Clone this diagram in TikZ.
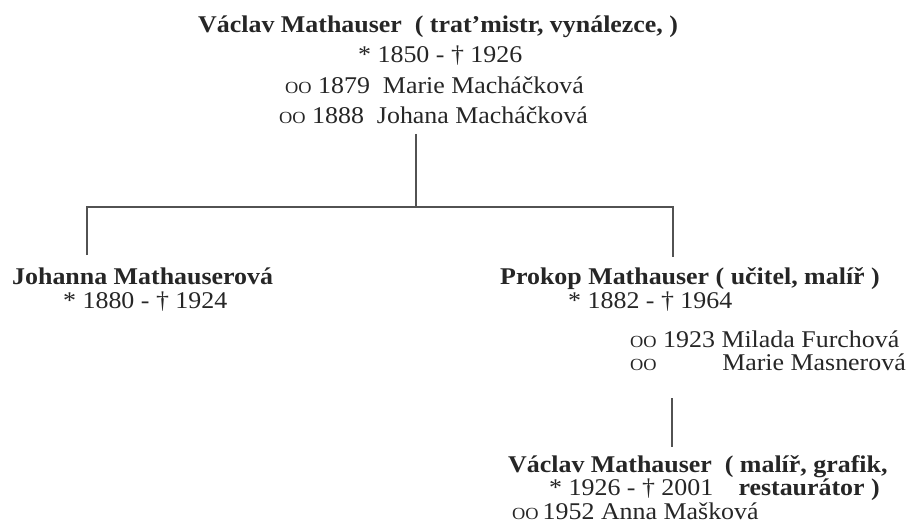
\documentclass[tikz,border=0pt]{standalone}
\usepackage{fontspec}
\setmainfont{Liberation Serif}[FakeStretch=1.08]
\newcommand\mrings{{\fontsize{17}{17}\selectfont OO}}
\begin{document}
\begin{tikzpicture}[x=1pt,y=-1pt,
	txt/.style={anchor=base west,inner sep=0pt,text=black!85,font=\fontsize{24}{26}\selectfont},
	person/.style={txt,font=\fontsize{24}{26}\selectfont\bfseries},
	line/.style={draw=black!68,line width=1.8pt}]
	\useasboundingbox (0,0) rectangle (910,532);
	% generation 1
	\node[person] (va) at (198,33) {Václav Mathauser\ \ ( trat’mistr, vynálezce, )};
	\node[txt] (vad) at (358,63) {* 1850 - † 1926};
	\node[txt] (vam1) at (285,94) {\mrings\ 1879\ \ Marie Macháčková};
	\node[txt] (vam2) at (279,124) {\mrings\ 1888\ \ Johana Macháčková};
	% generation 2
	\node[person] (jo) at (12,284) {Johanna Mathauserová};
	\node[txt] (jod) at (63,308) {* 1880 - † 1924};
	\node[person] (pr) at (500,284) {Prokop Mathauser ( učitel, malíř )};
	\node[txt] (prd) at (568,308) {* 1882 - † 1964};
	\node[txt] (prm1) at (630,347) {\mrings\ 1923 Milada Furchová};
	\node[txt] (prm2) at (630,370) {\mrings};
	\node[txt,anchor=base east] (prm2n) at (906,370) {Marie Masnerová};
	% generation 3
	\node[person] (vb) at (508,472) {Václav Mathauser\ \ ( malíř, grafik,};
	\node[txt] (vbd) at (549,495) {* 1926 - † 2001};
	\node[person,anchor=base east] (vbo) at (880,495) {restaurátor )};
	\node[txt] (vbm) at (512,519) {\mrings\,1952 Anna Mašková};
	% tree
	\path (416,134) coordinate (vatop)
	(416,207) coordinate (fork)
	(87,207) coordinate (forkl)
	(673,207) coordinate (forkr)
	(87,255) coordinate (join)
	(673,257) coordinate (prin)
	(672,398) coordinate (prout)
	(672,447) coordinate (vbin);
	\draw[line] (vatop)--(fork) (join)--(forkl)--(forkr)--(prin) (prout)--(vbin);
\end{tikzpicture}
\end{document}
